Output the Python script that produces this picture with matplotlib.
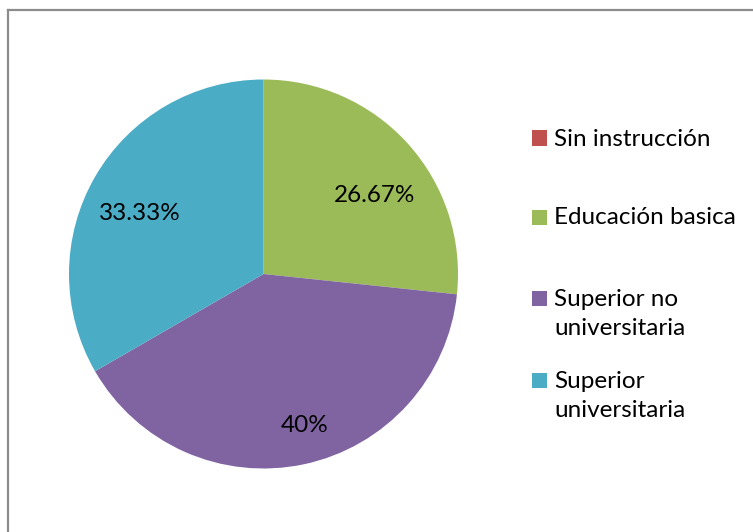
import matplotlib
matplotlib.use("Agg")
import matplotlib.pyplot as plt
from matplotlib.patches import Rectangle
from matplotlib.lines import Line2D

plt.rcParams['font.family'] = ['Lato', 'DejaVu Sans']

categories = ["Sin instrucción", "Educación basica",
              "Superior no\nuniversitaria", "Superior\nuniversitaria"]
counts = [0, 4, 6, 5]
colors = ["#C0504D", "#9BBB59", "#8064A2", "#4BACC6"]

W, H = 753, 532
fig = plt.figure(figsize=(W / 100, H / 100), dpi=100)
fig.patch.set_facecolor("white")

# chart area frame (top and left edges visible)
fig.add_artist(Line2D([8 / W, 8 / W], [0, 1 - 10 / H], color="#8c8c8c", lw=1.6))
fig.add_artist(Line2D([8 / W, 1], [1 - 10 / H, 1 - 10 / H], color="#8c8c8c", lw=1.6))

# pie axes, square box in pixel units
cx, cy, r = 263.5, H - 274, 194.5
ax = fig.add_axes([(cx - r) / W, (cy - r) / H, 2 * r / W, 2 * r / H])
wedges, _ = ax.pie(counts, colors=colors, startangle=90, counterclock=False,
                   radius=1.0, wedgeprops=dict(linewidth=0))
ax.set_xlim(-1, 1)
ax.set_ylim(-1, 1)
ax.set_aspect("equal")
ax.axis("off")

FS = 17.5

# percentage labels
total = sum(counts)
label_pos = {1: (375, 195), 2: (305, 425), 3: (140, 213)}
for i, (px, py) in label_pos.items():
    pct = 100 * counts[i] / total
    txt = f"{pct:.2f}%".replace(".00%", "%")
    fig.text(px / W, 1 - py / H, txt, ha="center", va="center",
             fontsize=FS, color="black")

# legend
entries = [(138, 139), (217, 218), (298, 314), (380, 396)]
for (sq_y, txt_y), lab, col in zip(entries, categories, colors):
    fig.add_artist(Rectangle((532 / W, 1 - (sq_y + 7.5) / H), 15 / W, 15 / H,
                             transform=fig.transFigure, facecolor=col,
                             edgecolor="none"))
    fig.text(554 / W, 1 - txt_y / H, lab, ha="left", va="center",
             fontsize=FS, color="black", linespacing=1.45)

fig.savefig("out.png", dpi=100, facecolor="white")
